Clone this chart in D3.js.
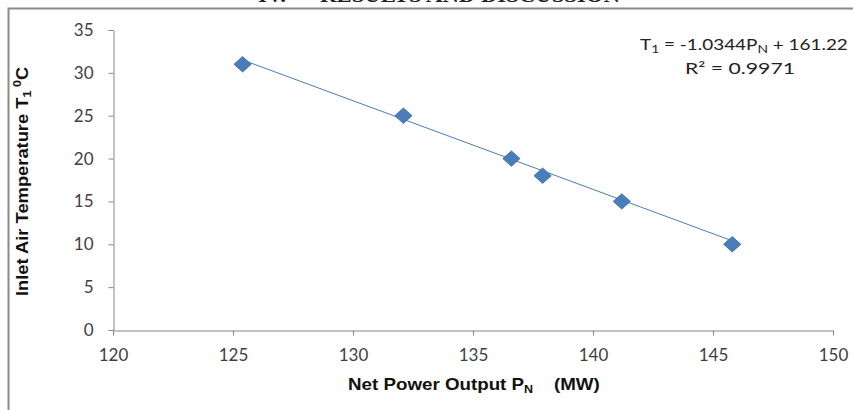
<!DOCTYPE html>
<html><head><meta charset="utf-8">
<script src="https://cdn.jsdelivr.net/npm/d3@7"></script>
<style>body{margin:0;background:#fff}svg{display:block}</style>
</head><body>
<svg id="c" width="853" height="410"></svg>
<script>
const powerMW = [125.4, 132.1, 136.6, 137.9, 141.2, 145.8];
const tempC = [31, 25, 20, 18, 15, 10];
const xTicks = [120, 125, 130, 135, 140, 145, 150];
const yTicks = [0, 5, 10, 15, 20, 25, 30, 35];
const slope = -1.0344, intercept = 161.22;

const svg = d3.select("#c");
const font = "Lato, 'Open Sans', sans-serif";
const axisCol = "#868686", textCol = "#404040", markCol = "#4A7EBB";

// stretch a text horizontally so it spans [left, left+width]
function fit(t, left, width) {
  t.attr("x", 0).attr("text-anchor", "start");
  const w = t.node().getBBox().width;
  t.attr("transform", `translate(${left},0) scale(${width / w},1)`);
}

// clipped section heading
const hd = svg.append("text").attr("y", 2)
  .attr("font-family", "'Liberation Serif', serif").attr("font-weight", "bold")
  .attr("font-size", 21).attr("fill", "#222").attr("xml:space", "preserve")
  .text("IV.      RESULTS AND DISCUSSION");
fit(hd, 258, 362);

// frame
svg.append("rect").attr("x", 8.5).attr("y", 8.5).attr("width", 860).attr("height", 420)
  .attr("fill", "none").attr("stroke", "#8a8a8a").attr("stroke-width", 2);

const x = d3.scaleLinear().domain([120, 150]).range([113, 833]);
const y = d3.scaleLinear().domain([0, 35]).range([330, 30]);

const xAxis = svg.append("g").attr("transform", "translate(0,330.5)")
  .call(d3.axisBottom(x).tickValues(xTicks).tickSize(5).tickPadding(9).tickSizeOuter(0));
const yAxis = svg.append("g").attr("transform", "translate(113.5,0)")
  .call(d3.axisLeft(y).tickValues(yTicks).tickSize(5).tickPadding(15).tickSizeOuter(0));
[xAxis, yAxis].forEach(g => {
  g.select(".domain").attr("stroke", axisCol);
  g.selectAll(".tick line").attr("stroke", axisCol);
  g.selectAll(".tick text").attr("fill", textCol).attr("font-family", font).attr("font-size", 17);
});
xAxis.selectAll(".tick text").attr("dy", "0.95em");

// trendline
const xmin = d3.min(powerMW), xmax = d3.max(powerMW);
svg.append("line")
  .attr("x1", x(xmin)).attr("y1", y(slope * xmin + intercept))
  .attr("x2", x(xmax)).attr("y2", y(slope * xmax + intercept))
  .attr("stroke", markCol).attr("stroke-width", 1);

// markers
svg.append("g").selectAll("path").data(powerMW.map((p, i) => [p, tempC[i]])).join("path")
  .attr("transform", d => `translate(${x(d[0])},${y(d[1])}) scale(1.12,1) rotate(45)`)
  .attr("d", d3.symbol().type(d3.symbolSquare).size(118))
  .attr("fill", markCol).attr("stroke", "#3f70aa").attr("stroke-width", 0.8);

// equation
const eq = svg.append("text").attr("y", 50)
  .attr("font-family", font).attr("font-size", 15).attr("fill", "#222");
eq.append("tspan").text("T");
eq.append("tspan").attr("font-size", 11).attr("dy", 3).text("1");
eq.append("tspan").attr("dy", -3).text(" = -1.0344P");
eq.append("tspan").attr("font-size", 11).attr("dy", 3).text("N");
eq.append("tspan").attr("dy", -3).text(" + 161.22");
fit(eq, 640, 208);
const r2 = svg.append("text").attr("y", 74)
  .attr("font-family", font).attr("font-size", 15).attr("fill", "#222")
  .text("R² = 0.9971");
fit(r2, 685, 110);

// y title
const ytg = svg.append("g").attr("transform", "translate(28,182) rotate(-90)");
const yt = ytg.append("text").attr("y", 0)
  .attr("font-family", "'Liberation Sans Narrow', 'Liberation Sans', sans-serif")
  .attr("font-weight", "bold").attr("font-size", 16).attr("fill", "#111");
yt.append("tspan").text("Inlet Air Temperature T");
yt.append("tspan").attr("font-size", 11).attr("dy", 3).text("1");
yt.append("tspan").attr("font-size", 11).attr("dy", -10).text(" 0");
yt.append("tspan").attr("dy", 7).text("C");
fit(yt, -114, 230);

// x title
const xt = svg.append("text").attr("y", 390)
  .attr("font-family", "'Liberation Sans Narrow', 'Liberation Sans', sans-serif")
  .attr("font-weight", "bold").attr("font-size", 16.5).attr("fill", "#111").attr("xml:space", "preserve");
xt.append("tspan").text("Net Power Output P");
xt.append("tspan").attr("font-size", 11).attr("dy", 3).text("N");
xt.append("tspan").attr("dy", -3).text("    (MW)");
fit(xt, 348, 252);
</script>
</body></html>
